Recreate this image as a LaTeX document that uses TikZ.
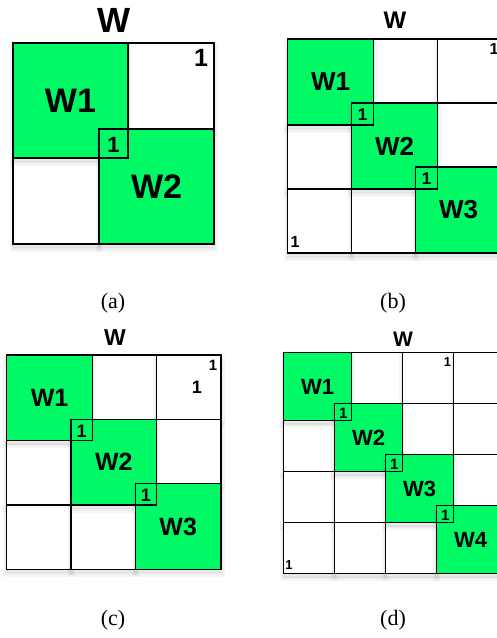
\documentclass[tikz,border=0pt]{standalone}
\usepackage{fontspec}
\setmainfont{Liberation Serif}
\setsansfont{Liberation Sans}
\definecolor{wgreen}{RGB}{0,250,102}
\tikzset{
  softshadow/.style={
    preaction={draw=black, draw opacity=0.035, line width=7pt, fill=black, fill opacity=0.05,
      transform canvas={yshift=-4pt}},
    preaction={draw=black, draw opacity=0.04, line width=3pt,
      transform canvas={yshift=-4pt}}},
  cellbox/.style={softshadow, draw=black, line width=1.1pt, fill=white},
  greenbox/.style={softshadow, draw=black, line width=1.3pt, fill=wgreen},
  ovbox/.style={draw=black, line width=1.3pt},
  lbl/.style={font=\sffamily\bfseries, inner sep=0pt},
  captxt/.style={font=\fontsize{22}{22}\selectfont, inner sep=0pt}
}
% #1 name, #2 x0, #3 y0, #4 d, #5 s, #6 n, #7 W size, #8 overlap size
\newcommand\blkpanel[8]{%
  \begin{scope}[shift={(#2,#3)}]
    \pgfmathtruncatemacro\nmone{#6-1}
    \pgfmathtruncatemacro\nmtwo{#6-2}
    % upper-triangle white cells
    \foreach \r in {0,...,\nmtwo}{%
      \pgfmathtruncatemacro\cs{\r+1}
      \foreach \c in {\cs,...,\nmone}{%
        \path[cellbox] ({(\c-1)*#4+#5},{\r*#4}) rectangle ++(#4,#4);
      }
    }
    % lower-triangle white cells
    \foreach \c in {0,...,\nmtwo}{%
      \pgfmathtruncatemacro\rs{\c+1}
      \foreach \r in {\rs,...,\nmone}{%
        \path[cellbox] ({\c*#4},{(\r-1)*#4+#5}) rectangle ++(#4,#4);
      }
    }
    % diagonal green blocks
    \foreach \i in {0,...,\nmone}{%
      \pgfmathtruncatemacro\k{\i+1}
      \path[greenbox] ({\i*#4},{\i*#4}) rectangle ++(#5,#5);
      \node[lbl, font=\fontsize{#7}{#7}\selectfont\sffamily\bfseries] (#1w\k)
        at ({\i*#4+#5/2},{\i*#4+#5/2}) {W\k};
    }
    % overlap squares
    \foreach \i in {1,...,\nmone}{%
      \path[ovbox] ({\i*#4},{\i*#4}) rectangle ({(\i-1)*#4+#5},{(\i-1)*#4+#5});
      \node[lbl, font=\fontsize{#8}{#8}\selectfont\sffamily\bfseries] (#1o\i)
        at ({\i*#4+(#5-#4)/2},{\i*#4+(#5-#4)/2+1}) {1};
    }
  \end{scope}
}
\begin{document}
\begin{tikzpicture}[x=1pt,y=-1pt]
\useasboundingbox (0,0) rectangle (497,638);
\clip (0,0) rectangle (497,638);
\fill[white] (0,0) rectangle (497,638);
% (a)
\blkpanel{a}{13}{43}{86}{115}{2}{34}{22}
\node[lbl, font=\fontsize{35}{35}\selectfont\sffamily\bfseries] (ta) at (114,20) {W};
\node[lbl, font=\fontsize{25}{25}\selectfont\sffamily\bfseries] (ca) at (201,58) {1};
\node[captxt] (capa) at (113,303) {(a)};
% (b)
\blkpanel{b}{287.7}{39}{64}{86}{3}{26}{17}
\node[lbl, font=\fontsize{24}{24}\selectfont\sffamily\bfseries] (tb) at (395,20) {W};
\node[lbl, font=\fontsize{16}{16}\selectfont\sffamily\bfseries] (cb1) at (494,49) {1};
\node[lbl, font=\fontsize{16}{16}\selectfont\sffamily\bfseries] (cb2) at (295,242) {1};
\node[captxt] (capb) at (393,303) {(b)};
% (c)
\blkpanel{c}{6.7}{355}{64.3}{85.7}{3}{25}{18}
\node[lbl, font=\fontsize{23}{23}\selectfont\sffamily\bfseries] (tc) at (115,338) {W};
\node[lbl, font=\fontsize{15}{15}\selectfont\sffamily\bfseries] (cc1) at (213,365) {1};
\node[lbl, font=\fontsize{18}{18}\selectfont\sffamily\bfseries] (cc2) at (197,387) {1};
\node[captxt] (capc) at (113,620) {(c)};
% (d)
\blkpanel{d}{283.7}{352.7}{51}{68}{4}{22}{15}
\node[lbl, font=\fontsize{21}{21}\selectfont\sffamily\bfseries] (td) at (403,339) {W};
\node[lbl, font=\fontsize{13}{13}\selectfont\sffamily\bfseries] (cd1) at (447.5,362) {1};
\node[lbl, font=\fontsize{13}{13}\selectfont\sffamily\bfseries] (cd2) at (289,565) {1};
\node[captxt] (capd) at (393,620) {(d)};
\end{tikzpicture}
\end{document}
